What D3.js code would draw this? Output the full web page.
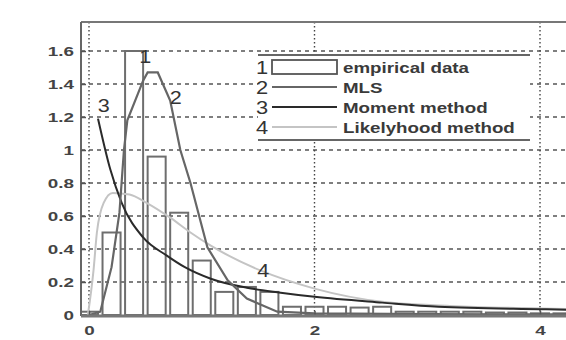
<!DOCTYPE html>
<html>
<head>
<meta charset="utf-8">
<script src="https://cdn.jsdelivr.net/npm/d3@7"></script>
<style>
  body { margin: 0; background: #fff; }
  svg { display: block; font-family: "Liberation Sans", Arial, sans-serif; }
</style>
</head>
<body>
<div class="container"></div>
<script>
// histogram bins (centre, height)
const binCenters = [0, 0.2, 0.4, 0.6, 0.8, 1.0, 1.2, 1.4, 1.6, 1.8, 2.0, 2.2, 2.4, 2.6, 2.8, 3.0, 3.2, 3.4, 3.6, 3.8, 4.0, 4.2];
const binHeights = [0.02, 0.50, 1.60, 0.96, 0.62, 0.33, 0.14, 0.17, 0.14, 0.05, 0.05, 0.05, 0.045, 0.05, 0.02, 0.02, 0.02, 0.02, 0.015, 0.015, 0.01, 0.01];

// MLS fit
const mlsX = [0, 0.1, 0.2, 0.27, 0.31, 0.34, 0.48, 0.52, 0.61, 0.72, 0.81, 0.9, 1.05, 1.23, 1.4, 1.5, 1.67, 2.0, 3.0, 4.4];
const mlsY = [0, 0.02, 0.29, 0.62, 1.0, 1.18, 1.42, 1.47, 1.47, 1.30, 1.0, 0.8, 0.41, 0.21, 0.1, 0.07, 0.02, 0.01, 0.005, 0.003];

// moment method fit
const momX = [0.08, 0.19, 0.29, 0.48, 0.69, 0.85, 1.08, 1.4, 1.7, 2.0, 2.6, 3.1, 4.0, 4.4];
const momY = [1.19, 0.88, 0.68, 0.47, 0.36, 0.29, 0.22, 0.165, 0.135, 0.11, 0.075, 0.05, 0.035, 0.03];

// likelihood method fit
const likX = [-0.01, 0.04, 0.07, 0.13, 0.21, 0.36, 0.51, 0.72, 0.9, 1.08, 1.52, 2.0, 2.6, 3.2, 4.0, 4.4];
const likY = [0.0, 0.27, 0.5, 0.68, 0.74, 0.73, 0.68, 0.59, 0.5, 0.42, 0.27, 0.16, 0.08, 0.055, 0.04, 0.035];

const yTicks = [0, 0.2, 0.4, 0.6, 0.8, 1, 1.2, 1.4, 1.6];
const xTicks = [0, 2, 4];
const legendLabels = ["empirical data", "MLS", "Moment method", "Likelyhood method"];

const width = 566, height = 340;
const plotLeft = 81, plotTop = 22, plotBottom = 316, plotRight = 600;

const x = d3.scaleLinear().domain([0, 4]).range([89, 540]);
const y = d3.scaleLinear().domain([0, 1.6]).range([315, 51]);

const svg = d3.select('.container').append('svg')
    .attr('width', width).attr('height', height);

svg.append('clipPath').attr('id', 'plot')
  .append('rect').attr('x', plotLeft).attr('y', plotTop)
  .attr('width', plotRight - plotLeft).attr('height', plotBottom - plotTop);

const plot = svg.append('g').attr('clip-path', 'url(#plot)');

// grid
plot.selectAll('.hgrid').data(yTicks.filter(d => d > 0)).enter().append('line')
    .attr('x1', plotLeft).attr('x2', plotRight)
    .attr('y1', d => y(d)).attr('y2', d => y(d))
    .attr('stroke', '#555').attr('stroke-width', 1.3).attr('stroke-dasharray', '4,4');
plot.selectAll('.vgrid').data(xTicks).enter().append('line')
    .attr('x1', d => x(d)).attr('x2', d => x(d))
    .attr('y1', plotTop).attr('y2', plotBottom)
    .attr('stroke', '#444').attr('stroke-width', 1.4).attr('stroke-dasharray', '1.5,2.5');

// histogram
const barW = x(0.16) - x(0);
plot.selectAll('.bar').data(binCenters).enter().append('rect')
    .attr('x', d => x(d) - barW / 2)
    .attr('y', (d, i) => y(binHeights[i]))
    .attr('width', barW)
    .attr('height', (d, i) => y(0) - y(binHeights[i]))
    .attr('fill', 'none')
    .attr('stroke', '#6e6e6e').attr('stroke-width', 2);

function curve(xs, ys, color, w, c) {
  const line = d3.line().x(d => x(d[0])).y(d => y(d[1])).curve(c);
  plot.append('path').datum(xs.map((v, i) => [v, ys[i]]))
      .attr('d', line).attr('fill', 'none')
      .attr('stroke', color).attr('stroke-width', w);
}
curve(likX, likY, '#c4c4c4', 2, d3.curveMonotoneX);
curve(momX, momY, '#2a2a2a', 2, d3.curveMonotoneX);
curve(mlsX, mlsY, '#666', 2.2, d3.curveLinear);

// curve labels
const tags = [["1", 0.5, 1.53], ["2", 0.77, 1.28], ["3", 0.13, 1.23], ["4", 1.545, 0.23]];
svg.selectAll('.tag').data(tags).enter().append('text')
    .attr('transform', d => 'translate(' + x(d[1]) + ',' + y(d[2]) + ') scale(1.2,1)')
    .attr('text-anchor', 'middle')
    .attr('font-size', 18).attr('fill', '#333')
    .text(d => d[0]);

// legend
const lg = svg.append('g');
lg.append('rect').attr('x', 258).attr('y', 55).attr('width', 272).attr('height', 85).attr('fill', '#fff');
lg.append('line').attr('x1', 258).attr('x2', 530).attr('y1', 55).attr('y2', 55).attr('stroke', '#666').attr('stroke-width', 2);
lg.append('line').attr('x1', 258).attr('x2', 530).attr('y1', 140).attr('y2', 140).attr('stroke', '#666').attr('stroke-width', 2);
const rowY = [67, 87, 107, 127];
const legColors = [null, '#666', '#2a2a2a', '#c4c4c4'];
legendLabels.forEach(function(label, i) {
  lg.append('text').attr('transform', 'translate(262,' + (rowY[i] + 7) + ') scale(1.15,1)')
    .attr('text-anchor', 'middle').attr('font-size', 19).attr('fill', '#333').text(String(i + 1));
  if (i === 0) {
    lg.append('rect').attr('x', 272).attr('y', rowY[i] - 7).attr('width', 65).attr('height', 14)
      .attr('fill', '#fff').attr('stroke', '#555').attr('stroke-width', 1.8);
  } else {
    lg.append('line').attr('x1', 272).attr('x2', 337).attr('y1', rowY[i]).attr('y2', rowY[i])
      .attr('stroke', legColors[i]).attr('stroke-width', 2);
  }
  lg.append('text').attr('transform', 'translate(343,' + (rowY[i] + 6) + ') scale(1.25,1)')
    .attr('font-size', 15).attr('font-weight', 'bold').attr('fill', '#3a3a3a').text(label);
});

// frame
svg.append('line').attr('x1', plotLeft).attr('x2', width).attr('y1', plotTop).attr('y2', plotTop)
    .attr('stroke', '#777').attr('stroke-width', 2);
svg.append('line').attr('x1', plotLeft).attr('x2', plotLeft).attr('y1', plotTop).attr('y2', plotBottom)
    .attr('stroke', '#666').attr('stroke-width', 2);

// axes
const yAxis = d3.axisLeft(y).tickValues(yTicks).tickFormat(d3.format('~g'))
    .tickSizeInner(-5).tickSizeOuter(0).tickPadding(10);
const gy = svg.append('g').attr('transform', 'translate(' + plotLeft + ',0)').call(yAxis);
gy.select('.domain').remove();
gy.selectAll('line').attr('stroke', '#555').attr('stroke-width', 1.5);
gy.selectAll('text').attr('x', 0).attr('transform', 'translate(-7,0) scale(1.45,1)')
    .attr('font-size', 13).attr('font-weight', 'bold').attr('fill', '#444')
    .attr('font-family', '"Liberation Sans", Arial, sans-serif');

const xAxis = d3.axisBottom(x).tickValues(xTicks).tickFormat(d3.format('d'))
    .tickSizeInner(-5).tickSizeOuter(0).tickPadding(10);
const gx = svg.append('g').attr('transform', 'translate(0,' + plotBottom + ')').call(xAxis);
gx.select('.domain').remove();
gx.selectAll('line').attr('stroke', '#555').attr('stroke-width', 1.5);
gx.selectAll('text').attr('transform', 'scale(1.45,1)')
    .attr('font-size', 13).attr('font-weight', 'bold').attr('fill', '#444')
    .attr('font-family', '"Liberation Sans", Arial, sans-serif');

svg.append('line').attr('x1', plotLeft).attr('x2', width).attr('y1', plotBottom).attr('y2', plotBottom)
    .attr('stroke', '#777').attr('stroke-width', 3);
</script>
</body>
</html>
